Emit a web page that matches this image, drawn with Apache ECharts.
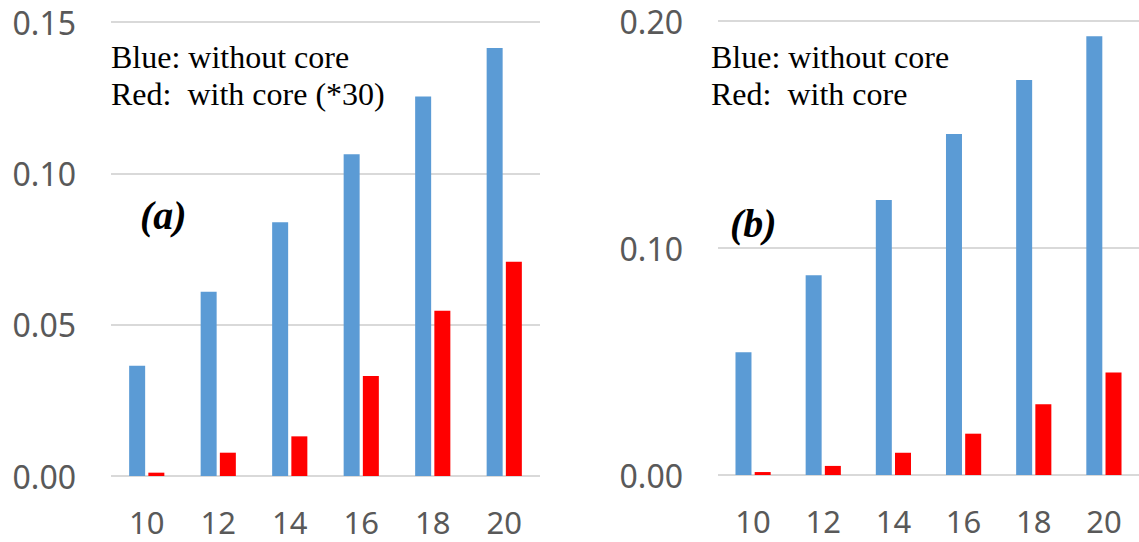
<!DOCTYPE html>
<html>
<head>
<meta charset="utf-8">
<title>Core comparison</title>
<script src="https://cdn.jsdelivr.net/npm/echarts@6/dist/echarts.min.js"></script>
<style>
  html, body { margin: 0; padding: 0; background: #fff; }
  #chart { width: 1139px; height: 542px; }
</style>
</head>
<body>
<div id="chart"></div>
<script>
// x categories shared by both panels
const categories = ['10', '12', '14', '16', '18', '20']

// panel (a) - red is scaled by 30
const blueA = [0.0364, 0.0609, 0.0838, 0.1063, 0.1254, 0.1414]
const redA = [0.0011, 0.0077, 0.0131, 0.0330, 0.0546, 0.0708]

// panel (b)
const blueB = [0.0541, 0.0880, 0.1212, 0.1502, 0.1740, 0.1933]
const redB = [0.0013, 0.0040, 0.0098, 0.0182, 0.0312, 0.0451]

// y axis ranges / ticks
const yTicksA = { min: 0, max: 0.15, interval: 0.05 }
const yTicksB = { min: 0, max: 0.20, interval: 0.10 }

const BLUE = '#5B9BD5'
const RED = '#FF0000'
const GRID = '#D9D9D9'
const LABEL = '#595959'
const SANS = 'Noto Sans'
const SERIF = 'Liberation Serif'

const chart = echarts.init(document.getElementById('chart'), null, { renderer: 'svg' })

function xAxis(gridIndex) {
  return {
    type: 'category',
    gridIndex: gridIndex,
    data: categories,
    axisLine: { show: false },
    axisTick: { show: false },
    // kept a bit smaller so the label box stays inside the page
    axisLabel: { color: LABEL, fontFamily: SANS, fontSize: 31, lineHeight: 31, margin: 30 }
  }
}

function yAxis(gridIndex, ticks) {
  return {
    type: 'value',
    gridIndex: gridIndex,
    min: ticks.min,
    max: ticks.max,
    interval: ticks.interval,
    axisLine: { show: false },
    axisTick: { show: false },
    axisLabel: {
      color: LABEL,
      fontFamily: SANS,
      fontSize: 32,
      lineHeight: 32,
      margin: 35,
      formatter: (v) => v.toFixed(2)
    },
    splitLine: { lineStyle: { color: GRID, width: 2 } }
  }
}

function bars(data, color, axisIndex) {
  return {
    type: 'bar',
    xAxisIndex: axisIndex,
    yAxisIndex: axisIndex,
    data: data,
    barWidth: 16,
    barGap: '20%',
    itemStyle: { color: color },
    silent: true
  }
}

function note(x, y, text, size, italicBold) {
  return {
    type: 'text',
    x: x,
    y: y,
    silent: true,
    style: {
      text: text,
      fontFamily: SERIF,
      fontSize: size,
      fontStyle: italicBold ? 'italic' : 'normal',
      fontWeight: italicBold ? 'bold' : 'normal',
      fill: '#000',
      align: 'left',
      verticalAlign: 'middle'
    }
  }
}

const option = {
  animation: false,
  backgroundColor: '#fff',
  grid: [
    { left: 111, top: 22, width: 429, height: 454 },
    { left: 718, top: 21, width: 429, height: 454 }
  ],
  xAxis: [xAxis(0), xAxis(1)],
  yAxis: [yAxis(0, yTicksA), yAxis(1, yTicksB)],
  series: [
    bars(blueA, BLUE, 0),
    bars(redA, RED, 0),
    bars(blueB, BLUE, 1),
    bars(redB, RED, 1)
  ],
  graphic: [
    note(111, 57, 'Blue: without core', 32, false),
    note(111, 94, 'Red:  with core (*30)', 32, false),
    note(140, 215, '(a)', 40, true),
    note(730, 223, '(b)', 40, true),
    note(711, 57, 'Blue: without core', 32, false),
    note(711, 94, 'Red:  with core', 32, false)
  ]
}

chart.setOption(option)
</script>
</body>
</html>
